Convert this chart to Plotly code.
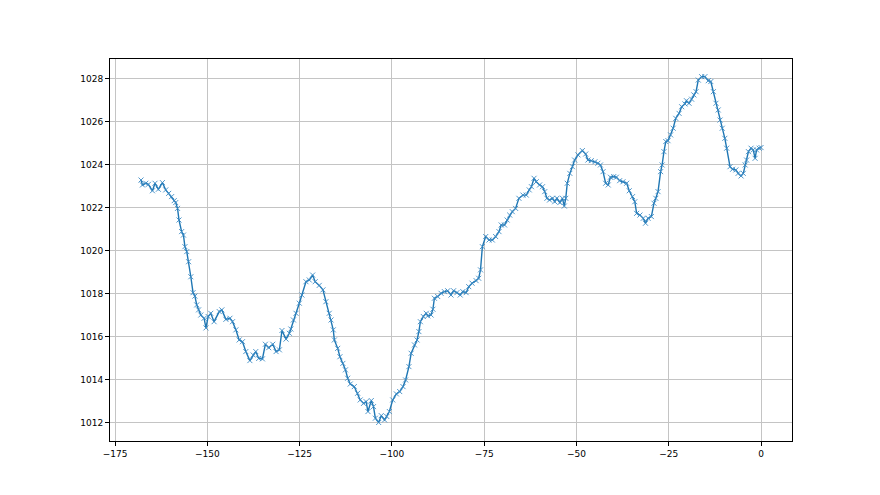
import plotly.graph_objects as go

# hours relative to now, pressure in hPa
hours = [
    -168.0, -167.6, -166.7, -166.0, -164.9, -164.2, -163.3, -162.2, -161.3, -160.5,
    -159.7, -159.0, -158.6, -158.1, -157.7, -157.0, -156.5, -156.1, -155.6, -155.1,
    -154.5, -153.9, -153.4, -152.9, -152.4, -151.8, -150.9, -150.4, -149.8, -149.1,
    -148.2, -146.8, -146.1, -145.0, -143.9, -143.2, -142.3, -141.4, -140.5, -139.6,
    -138.5, -137.6, -136.9, -136.1, -135.1, -134.3, -133.4, -132.3, -131.4, -130.5,
    -129.8, -128.7, -127.8, -127.4, -126.7, -126.0, -125.1, -124.4, -123.3, -122.4,
    -121.5, -120.8, -119.7, -118.7, -117.9, -117.0, -116.5, -115.9, -115.6, -114.7,
    -114.1, -113.3, -112.6, -112.0, -111.3, -110.2, -109.3, -108.6, -107.7, -107.0,
    -106.5, -105.6, -105.0, -104.5, -103.6, -102.9, -102.0, -101.4, -100.7, -99.8,
    -98.8, -97.9, -97.0, -96.3, -95.4, -94.8, -93.9, -93.2, -92.7, -92.3,
    -91.5, -90.7, -90.3, -89.4, -88.9, -88.5, -87.6, -86.7, -85.8, -84.9,
    -84.0, -83.3, -82.4, -81.5, -80.8, -79.9, -79.2, -78.3, -77.2, -76.5,
    -76.0, -75.5, -74.6, -73.7, -72.8, -71.9, -71.0, -70.4, -69.5, -68.8,
    -68.1, -67.4, -66.5, -65.6, -64.5, -63.6, -62.8, -62.2, -61.5, -60.9,
    -60.0, -59.2, -58.6, -58.0, -57.3, -56.5, -55.9, -55.3, -54.5, -53.8,
    -53.3, -52.9, -52.5, -51.8, -51.1, -50.5, -49.6, -48.4, -47.5, -46.9,
    -46.0, -45.0, -44.2, -43.5, -42.8, -42.1, -41.4, -40.8, -39.9, -39.2,
    -38.3, -37.4, -36.4, -35.7, -34.8, -34.2, -33.7, -32.8, -31.9, -31.3,
    -30.6, -29.7, -29.0, -28.5, -27.9, -27.2, -26.8, -26.3, -25.8, -25.2,
    -24.5, -23.8, -23.1, -22.2, -21.5, -20.6, -20.2, -19.5, -18.8, -18.2,
    -17.6, -17.0, -16.1, -15.2, -14.3, -13.6, -12.9, -12.2, -11.6, -11.1,
    -10.5, -9.8, -9.3, -8.4, -7.7, -6.8, -6.2, -5.4, -4.8, -4.3,
    -3.9, -3.4, -2.7, -2.1, -1.6, -1.2, -0.5, 0.0,
]
pressure = [
    1023.30, 1023.07, 1023.15, 1023.10, 1022.80, 1023.15, 1022.87, 1023.18, 1022.84, 1022.68,
    1022.53, 1022.34, 1022.25, 1021.98, 1021.44, 1020.90, 1020.74, 1020.20, 1019.97, 1019.50,
    1018.80, 1018.06, 1017.90, 1017.49, 1017.26, 1017.02, 1016.87, 1016.42, 1016.95, 1017.10,
    1016.71, 1017.18, 1017.26, 1016.82, 1016.87, 1016.71, 1016.33, 1015.86, 1015.78, 1015.32,
    1014.90, 1015.16, 1015.32, 1015.00, 1014.98, 1015.66, 1015.50, 1015.66, 1015.32, 1015.40,
    1016.30, 1015.90, 1016.17, 1016.37, 1016.79, 1017.10, 1017.57, 1017.95, 1018.57, 1018.65,
    1018.88, 1018.57, 1018.40, 1018.19, 1017.64, 1017.10, 1016.79, 1016.33, 1015.86, 1015.47,
    1015.08, 1014.77, 1014.47, 1014.08, 1013.81, 1013.69, 1013.38, 1013.07, 1012.91, 1012.99,
    1012.53, 1013.04, 1012.76, 1012.22, 1012.02, 1012.34, 1012.14, 1012.30, 1012.53, 1013.07,
    1013.35, 1013.46, 1013.69, 1014.00, 1014.62, 1015.24, 1015.63, 1015.86, 1016.25, 1016.71,
    1016.95, 1017.10, 1016.98, 1017.02, 1017.29, 1017.80, 1017.88, 1018.03, 1018.11, 1018.15,
    1017.95, 1018.15, 1018.06, 1017.95, 1018.11, 1018.06, 1018.34, 1018.50, 1018.62, 1018.73,
    1019.12, 1020.20, 1020.67, 1020.51, 1020.51, 1020.67, 1020.90, 1021.21, 1021.21, 1021.44,
    1021.67, 1021.83, 1021.98, 1022.45, 1022.60, 1022.60, 1022.84, 1022.99, 1023.38, 1023.22,
    1023.07, 1022.99, 1022.76, 1022.45, 1022.37, 1022.45, 1022.29, 1022.45, 1022.25, 1022.45,
    1022.09, 1022.45, 1023.15, 1023.61, 1023.92, 1024.23, 1024.47, 1024.67, 1024.51, 1024.23,
    1024.20, 1024.15, 1024.08, 1024.00, 1023.69, 1023.15, 1023.07, 1023.43, 1023.46, 1023.43,
    1023.27, 1023.22, 1023.15, 1022.80, 1022.53, 1022.29, 1021.75, 1021.67, 1021.52, 1021.29,
    1021.52, 1021.60, 1022.22, 1022.45, 1022.76, 1023.69, 1024.00, 1024.62, 1025.09, 1025.13,
    1025.40, 1025.71, 1026.17, 1026.40, 1026.71, 1026.84, 1026.99, 1026.87, 1027.06, 1027.26,
    1027.41, 1027.95, 1028.11, 1028.11, 1027.92, 1027.88, 1027.41, 1026.87, 1026.56, 1026.09,
    1025.71, 1025.24, 1024.78, 1023.92, 1023.80, 1023.77, 1023.61, 1023.49, 1023.61, 1024.00,
    1024.23, 1024.62, 1024.78, 1024.70, 1024.31, 1024.70, 1024.78, 1024.81,
]

x_ticks = [-175, -150, -125, -100, -75, -50, -25, 0]
y_ticks = [1012, 1014, 1016, 1018, 1020, 1022, 1024, 1026, 1028]

fig = go.Figure()
fig.add_trace(go.Scatter(
    x=hours, y=pressure, mode="lines+markers",
    line=dict(color="#1f77b4", width=1.4),
    marker=dict(symbol="x-thin", size=5, line=dict(color="#3b8ac4", width=0.9)),
    showlegend=False,
))

axis_style = dict(
    showline=True, linecolor="black", linewidth=1, mirror=True,
    ticks="outside", ticklen=4, tickcolor="black", tickwidth=1,
    showgrid=True, gridcolor="#c4c4c4", gridwidth=0.8, zeroline=False,
    tickfont=dict(family="DejaVu Sans", size=9, color="black"),
)
fig.update_xaxes(range=[-176.4, 8.4], tickvals=x_ticks, **axis_style)
fig.update_yaxes(range=[1011.16, 1028.93], tickvals=y_ticks, **axis_style)

# page body adds an 8px margin, so shift the plot box up/left by that much
fig.update_layout(
    width=880, height=495,
    margin=dict(l=102, r=96, t=51, b=62),
    paper_bgcolor="white", plot_bgcolor="white",
)

fig.write_html("out.html")
